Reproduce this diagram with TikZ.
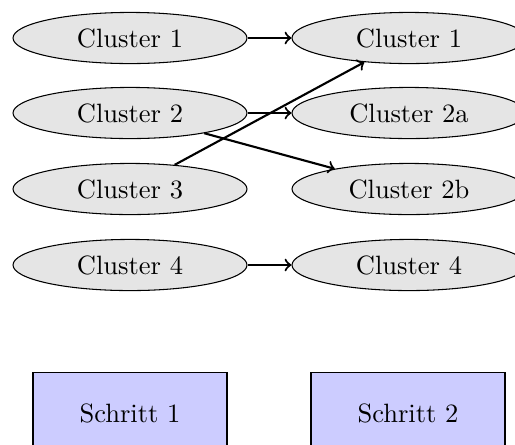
\documentclass[tikz,border=0pt]{standalone}
\usetikzlibrary{shapes.geometric}
\begin{document}
\begin{tikzpicture}[x=0.3774pt, y=-0.3774pt,
  cluster/.style={ellipse, draw, fill=black!10, minimum width=88.3pt, minimum height=19.3pt, inner sep=0pt},
  stepbox/.style={rectangle, draw, fill=blue!20, minimum width=73.2pt, minimum height=30.9pt, inner sep=0pt},
  flow/.style={->, thick}]
\useasboundingbox (0,0) rectangle (515,444);
% first step clusters
\node[cluster] (a1) at (130,38)  {Cluster 1};
\node[cluster] (a2) at (130,113) {Cluster 2};
\node[cluster] (a3) at (130,189) {Cluster 3};
\node[cluster] (a4) at (130,265) {Cluster 4};
% second step clusters
\node[cluster] (b1)  at (409,38)  {Cluster 1};
\node[cluster] (b2a) at (409,113) {Cluster 2a};
\node[cluster] (b2b) at (409,189) {Cluster 2b};
\node[cluster] (b4)  at (409,265) {Cluster 4};
% step labels
\node[stepbox] (s1) at (130,413) {Schritt 1};
\node[stepbox] (s2) at (408,413) {Schritt 2};
% transitions
\draw[flow] (a1) -- (b1);
\draw[flow] (a2) -- (b2a);
\draw[flow] (a2) -- (b2b);
\draw[flow] (a3) -- (b1);
\draw[flow] (a4) -- (b4);
\end{tikzpicture}
\end{document}
